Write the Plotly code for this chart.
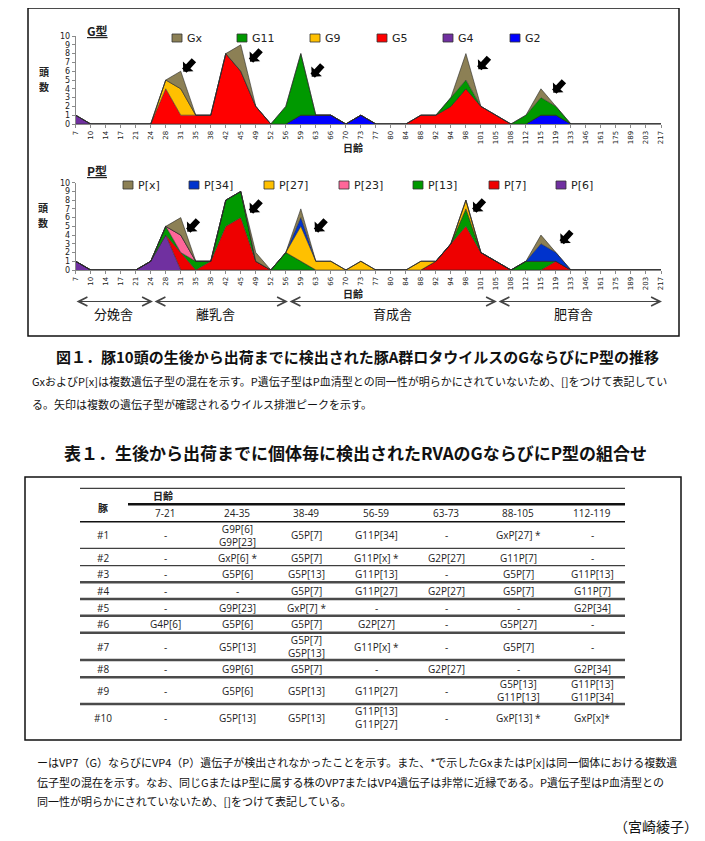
import plotly.graph_objects as go

# page body has an 8px margin, so the figure is offset; work in page pixels
OFF = 8
W, H = 705 - OFF, 841 - OFF
def px(x): return (x - OFF) / W
def py(y): return 1 - (y - OFF) / H

# ---------------- data ----------------
days = ["7", "10", "14", "17", "21", "24", "28", "31", "35", "38", "42", "45", "49", "52",
        "56", "59", "63", "66", "70", "73", "77", "80", "84", "88", "92", "94", "98", "101",
        "105", "108", "112", "115", "119", "133", "146", "161", "175", "189", "203", "217"]

#            7 10 14 17 21 24 28 31 35 38 42 45 49 52 56 59 63 66 70 73 77 80 84 88 92 94 98 101 105 108 112 115 119 133 146 161 175 189 203 217
g2  = [0, 0, 0, 0, 0, 0, 0, 0, 0, 0, 0, 0, 0, 0, 0, 1, 1, 1, 0, 1, 0, 0, 0, 0, 0, 0, 0, 0, 0, 0, 0, 1, 1, 0, 0, 0, 0, 0, 0, 0]
g4  = [1, 0, 0, 0, 0, 0, 0, 0, 0, 0, 0, 0, 0, 0, 0, 0, 0, 0, 0, 0, 0, 0, 0, 0, 0, 0, 0, 0, 0, 0, 0, 0, 0, 0, 0, 0, 0, 0, 0, 0]
g5  = [0, 0, 0, 0, 0, 0, 4, 1, 1, 1, 8, 6, 2, 0, 0, 0, 0, 0, 0, 0, 0, 0, 0, 1, 1, 2, 4, 2, 1, 0, 0, 0, 0, 0, 0, 0, 0, 0, 0, 0]
g9  = [0, 0, 0, 0, 0, 0, 1, 3, 0, 0, 0, 0, 0, 0, 0, 0, 0, 0, 0, 0, 0, 0, 0, 0, 0, 0, 0, 0, 0, 0, 0, 0, 0, 0, 0, 0, 0, 0, 0, 0]
g11 = [0, 0, 0, 0, 0, 0, 0, 0, 0, 0, 0, 0, 0, 0, 2, 7, 0, 0, 0, 0, 0, 0, 0, 0, 0, 1, 1, 0, 0, 0, 1, 2, 1, 0, 0, 0, 0, 0, 0, 0]
gx  = [0, 0, 0, 0, 0, 0, 0, 2, 0, 0, 0, 3, 0, 0, 0, 0, 0, 0, 0, 0, 0, 0, 0, 0, 0, 0, 3, 0, 0, 0, 0, 1, 0, 0, 0, 0, 0, 0, 0, 0]

p6  = [1, 0, 0, 0, 0, 1, 4, 0, 0, 0, 0, 0, 0, 0, 0, 0, 0, 0, 0, 0, 0, 0, 0, 0, 0, 0, 0, 0, 0, 0, 0, 0, 0, 0, 0, 0, 0, 0, 0, 0]
p7  = [0, 0, 0, 0, 0, 0, 0, 2, 0, 1, 5, 6, 1, 0, 0, 0, 0, 0, 0, 0, 0, 0, 0, 0, 1, 3, 5, 2, 1, 0, 0, 0, 1, 0, 0, 0, 0, 0, 0, 0]
p13 = [0, 0, 0, 0, 0, 0, 1, 0, 1, 0, 3, 3, 0, 0, 2, 1, 0, 0, 0, 0, 0, 0, 0, 0, 0, 0, 2, 0, 0, 0, 1, 1, 0, 0, 0, 0, 0, 0, 0, 0]
p23 = [0, 0, 0, 0, 0, 0, 0, 2, 0, 0, 0, 0, 0, 0, 0, 0, 0, 0, 0, 0, 0, 0, 0, 0, 0, 0, 0, 0, 0, 0, 0, 0, 0, 0, 0, 0, 0, 0, 0, 0]
p27 = [0, 0, 0, 0, 0, 0, 0, 0, 0, 0, 0, 0, 0, 0, 0, 4, 1, 1, 0, 1, 0, 0, 0, 1, 0, 0, 1, 0, 0, 0, 0, 0, 0, 0, 0, 0, 0, 0, 0, 0]
p34 = [0, 0, 0, 0, 0, 0, 0, 0, 0, 0, 0, 0, 0, 0, 0, 1, 0, 0, 0, 0, 0, 0, 0, 0, 0, 0, 0, 0, 0, 0, 0, 2, 1, 0, 0, 0, 0, 0, 0, 0]
px_ = [0, 0, 0, 0, 0, 0, 0, 2, 0, 0, 0, 0, 1, 0, 0, 1, 0, 0, 0, 0, 0, 0, 0, 0, 0, 0, 0, 0, 0, 0, 0, 1, 0, 0, 0, 0, 0, 0, 0, 0]

g_names = ["G2", "G4", "G5", "G9", "G11", "Gx"]          # bottom -> top
g_values = [g2, g4, g5, g9, g11, gx]
g_colors = ["#0000FF", "#7030A0", "#FF0000", "#FFC000", "#009900", "#8C8055"]

p_names = ["P[6]", "P[7]", "P[13]", "P[23]", "P[27]", "P[34]", "P[x]"]
p_values = [p6, p7, p13, p23, p27, p34, px_]
p_colors = ["#7030A0", "#EE0000", "#009900", "#FF6699", "#FFC000", "#0033CC", "#8C8055"]

y_ticks = list(range(0, 11))

houses = ["分娩舎", "離乳舎", "育成舎", "肥育舎"]

tbl_periods = ["7-21", "24-35", "38-49", "56-59", "63-73", "88-105", "112-119"]
tbl_pigs = ["#1", "#2", "#3", "#4", "#5", "#6", "#7", "#8", "#9", "#10"]
tbl_cells = [
    ["-", "G9P[6]<br>G9P[23]", "G5P[7]", "G11P[34]", "-", "GxP[27] *", "-"],
    ["-", "GxP[6] *", "G5P[7]", "G11P[x] *", "G2P[27]", "G11P[7]", "-"],
    ["-", "G5P[6]", "G5P[13]", "G11P[13]", "-", "G5P[7]", "G11P[13]"],
    ["-", "-", "G5P[7]", "G11P[27]", "G2P[27]", "G5P[7]", "G11P[7]"],
    ["-", "G9P[23]", "GxP[7] *", "-", "-", "-", "G2P[34]"],
    ["G4P[6]", "G5P[6]", "G5P[7]", "G2P[27]", "-", "G5P[27]", "-"],
    ["-", "G5P[13]", "G5P[7]<br>G5P[13]", "G11P[x] *", "-", "G5P[7]", "-"],
    ["-", "G9P[6]", "G5P[7]", "-", "G2P[27]", "-", "G2P[34]"],
    ["-", "G5P[6]", "G5P[13]", "G11P[27]", "-", "G5P[13]<br>G11P[13]", "G11P[13]<br>G11P[34]"],
    ["-", "G5P[13]", "G5P[13]", "G11P[13]<br>G11P[27]", "-", "GxP[13] *", "GxP[x]*"],
]

# ---------------- figure ----------------
fig = go.Figure()
for name, vals, col in zip(g_names, g_values, g_colors):
    fig.add_trace(go.Scatter(x=days, y=vals, name=name, mode="lines", stackgroup="g",
                             line=dict(color="#2a2a2a", width=0.6), fillcolor=col,
                             xaxis="x", yaxis="y", showlegend=False))
for name, vals, col in zip(p_names, p_values, p_colors):
    fig.add_trace(go.Scatter(x=days, y=vals, name=name, mode="lines", stackgroup="p",
                             line=dict(color="#2a2a2a", width=0.6), fillcolor=col,
                             xaxis="x2", yaxis="y2", showlegend=False))

LAT = "DejaVu Sans"
CJK = "Noto Sans CJK JP"

xcommon = dict(type="category", range=[0, len(days) - 1], tickangle=-90, automargin=False,
               tickfont=dict(family=LAT, size=7, color="#222"), showline=True,
               linecolor="#8a8a8a", linewidth=1, ticks="outside", ticklen=3,
               tickcolor="#8a8a8a", showgrid=False, zeroline=False, fixedrange=True,
               domain=[px(75.7), px(661)])
ycommon = dict(range=[0, 10], tickvals=y_ticks, automargin=False,
               tickfont=dict(family=LAT, size=8, color="#222"),
               showline=True, linecolor="#8a8a8a", linewidth=1, ticks="outside", ticklen=3,
               tickcolor="#8a8a8a", showgrid=False, zeroline=False, fixedrange=True)

fig.update_layout(
    width=W, height=H, margin=dict(l=0, r=0, t=0, b=0, autoexpand=False),
    paper_bgcolor="white", plot_bgcolor="rgba(0,0,0,0)",
    xaxis=dict(xcommon, anchor="y"),
    yaxis=dict(ycommon, anchor="x", domain=[py(124), py(36)]),
    xaxis2=dict(xcommon, anchor="y2"),
    yaxis2=dict(ycommon, anchor="x2", domain=[py(270), py(182.7)]),
)

ann = []
shapes = []

def text(x, y, s, size=11, family=CJK, color="#111", xanchor="center", yanchor="middle",
         align="center", **extra):
    d = dict(x=px(x), y=py(y), xref="paper", yref="paper", text=s, showarrow=False,
             font=dict(family=family, size=size, color=color),
             xanchor=xanchor, yanchor=yanchor, align=align)
    d.update(extra)
    ann.append(d)

def hline(x0, x1, y, width=1, color="#111"):
    shapes.append(dict(type="line", xref="paper", yref="paper", x0=px(x0), x1=px(x1),
                       y0=py(y), y1=py(y), line=dict(color=color, width=width)))

def rect(x0, y0, x1, y1, width=1.5, color="#111", fill=None):
    shapes.append(dict(type="rect", xref="paper", yref="paper", x0=px(x0), x1=px(x1),
                       y0=py(y1), y1=py(y0), line=dict(color=color, width=width),
                       fillcolor=fill if fill else "rgba(0,0,0,0)"))

# outer figure box
rect(28, 8, 679, 336, width=1.5)

# chart titles
text(97, 30, "<b><u>G型</u></b>", size=12, family=CJK, color="#222")
text(97, 170, "<b><u>P型</u></b>", size=12, family=CJK, color="#222")
# y titles (vertical, one character per line)
for (yx, yy, ch) in [(44, 72, "頭"), (44, 87, "数"), (43, 207, "頭"), (43, 222, "数")]:
    text(yx, yy, "<b>" + ch + "</b>", size=10, color="#222", height=11, borderpad=0)
# x titles
text(353, 147, "<b>日齢</b>", size=10, color="#222")
text(353, 293, "<b>日齢</b>", size=10, color="#222")

# legends (manual)
g_leg_x = [172, 237, 310, 377, 443, 510]
g_leg_order = ["Gx", "G11", "G9", "G5", "G4", "G2"]
for lx, nm in zip(g_leg_x, g_leg_order):
    col = g_colors[g_names.index(nm)]
    rect(lx, 34, lx + 10, 42, width=0.8, color="#333", fill=col)
    text(lx + 13, 38.5, nm, size=11, family=LAT, color="#222", xanchor="left")

p_leg_x = [123, 189, 264, 339, 413, 489, 556]
p_leg_order = ["P[x]", "P[34]", "P[27]", "P[23]", "P[13]", "P[7]", "P[6]"]
for lx, nm in zip(p_leg_x, p_leg_order):
    col = p_colors[p_names.index(nm)]
    rect(lx, 181, lx + 10, 189, width=0.8, color="#333", fill=col)
    text(lx + 13, 185.5, nm, size=11, family=LAT, color="#222", xanchor="left")

# black peak arrows
def block_arrow(x, y):
    ann.append(dict(x=px(x), y=py(y), xref="paper", yref="paper", text="", showarrow=True,
                    ax=12, ay=-13, arrowhead=1, arrowsize=0.4, arrowwidth=6,
                    arrowcolor="black", standoff=0))

for (ax_, ay_) in [(183.3, 71.7), (250, 61.7), (311.7, 76.7), (478.3, 69.3), (553.3, 92.7)]:
    block_arrow(ax_, ay_)
for (ax_, ay_) in [(187.3, 231.7), (250, 212.7), (315, 231.7), (473.3, 211.7), (560.7, 243.3)]:
    block_arrow(ax_, ay_)

# housing double arrows
seg_x = [75, 153, 288, 497, 662]
label_x = [113, 215, 392, 573]
for i, lab in enumerate(houses):
    x0, x1 = seg_x[i], seg_x[i + 1]
    ann.append(dict(x=px(x1), y=py(301.5), xref="paper", yref="paper", text="", showarrow=True,
                    ax=-(x1 - x0), ay=0, arrowside="end+start", arrowhead=5, startarrowhead=5,
                    arrowsize=1.6, startarrowsize=1.6, arrowwidth=1.1, arrowcolor="#444",
                    standoff=0, startstandoff=0))
    text(label_x[i], 314, lab, size=13, color="#111")

# figure caption
text(357, 356, "<b>図１．豚10頭の生後から出荷までに検出された豚A群ロタウイルスのGならびにP型の推移</b>",
     size=15, color="#111")
text(30, 381, "GxおよびP[x]は複数遺伝子型の混在を示す。P遺伝子型はP血清型との同一性が明らかにされていないため、[]をつけて表記してい",
     size=11, xanchor="left")
text(30, 404, "る。矢印は複数の遺伝子型が確認されるウイルス排泄ピークを示す。", size=11, xanchor="left")

# table title
text(355, 452, "<b>表１．生後から出荷までに個体毎に検出されたRVAのGならびにP型の組合せ</b>",
     size=17, color="#111")

# table box
rect(25, 477, 681, 740, width=1.5)
TL, TR = 80, 625
hline(TL, TR, 488.3, width=1, color="#111")
hline(128, TR, 504.3, width=2.5, color="#111")
hline(TL, TR, 521.7, width=1.5, color="#111")
sep_y = [548.3, 565.7, 582.3, 599, 615.7, 632.7, 660, 677.3, 704]
sep_w = [1, 1, 2.5, 2.5, 2.5, 2.5, 2.5, 2.5, 2.5]
for yy, ww in zip(sep_y, sep_w):
    hline(TL, TR, yy, width=ww, color="#111" if ww < 2 else "#4a4a4a")

col_x = [103, 165, 237, 306, 376, 446, 518, 592]
row_y = [535, 558.3, 574, 591, 607.7, 624.3, 646.7, 669.3, 690.7, 717.7]
TF = "Open Sans"
text(103, 507, "<b>豚</b>", size=10, color="#222")
text(163, 496, "<b>日齢</b>", size=10, color="#222")
for cx, per in zip(col_x[1:], tbl_periods):
    text(cx, 513.3, per, size=10, family=TF, color="#222")
for ry, pig, row in zip(row_y, tbl_pigs, tbl_cells):
    text(col_x[0], ry, pig, size=10, family=TF, color="#222")
    for cx, cell in zip(col_x[1:], row):
        text(cx, ry, cell, size=10, family=TF, color="#222")

# note under table
text(35, 762, "ーはVP7（G）ならびにVP4（P）遺伝子が検出されなかったことを示す。また、*で示したGxまたはP[x]は同一個体における複数遺",
     size=11, xanchor="left")
text(35, 782, "伝子型の混在を示す。なお、同じGまたはP型に属する株のVP7またはVP4遺伝子は非常に近縁である。P遺伝子型はP血清型との",
     size=11, xanchor="left")
text(35, 801, "同一性が明らかにされていないため、[]をつけて表記している。", size=11, xanchor="left")
text(700, 826, "（宮崎綾子）", size=14, xanchor="right")

fig.update_layout(annotations=ann, shapes=shapes)
fig.write_html("out.html")
